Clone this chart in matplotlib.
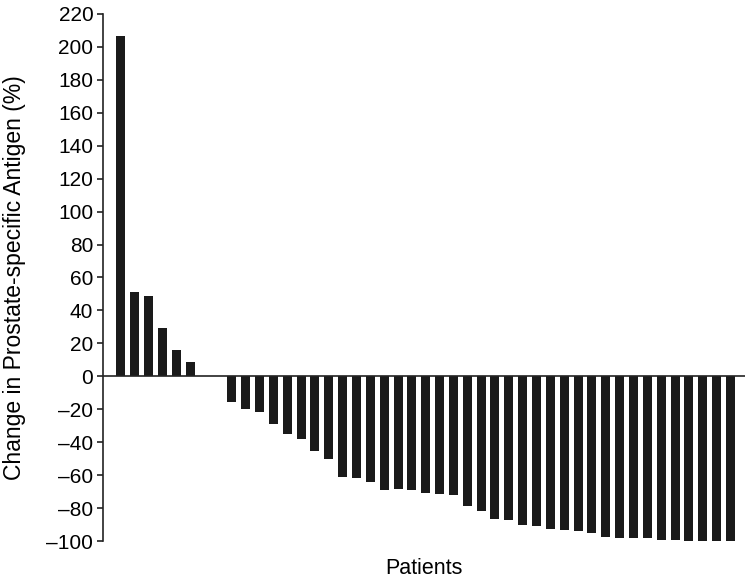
import matplotlib
matplotlib.use("Agg")
import matplotlib.pyplot as plt
import numpy as np

plt.rcParams['font.family'] = ['Liberation Sans', 'DejaVu Sans']

patients = list(range(1, 46))
psa_change = [206.5, 51, 49, 29.3, 15.9, 8.9, 0, 0,
              -15.3, -19.6, -21.5, -28.8, -34.8, -38.3, -45.3, -50.1,
              -61.2, -61.6, -64.2, -68.8, -68.7, -68.8, -71.0, -71.5,
              -72.1, -78.7, -81.5, -86.5, -87.5, -90.2, -90.8, -92.6,
              -93.2, -94.0, -95.0, -97.8, -98.4, -98.4, -98.0, -99.2,
              -99.2, -100, -100, -100, -100]
yticks = list(range(-100, 221, 20))

fig = plt.figure(figsize=(7.5, 5.82), dpi=100)
ax = fig.add_axes([0.1373, 0.0704, 0.856, 0.9056])

x = np.arange(len(psa_change))
ax.bar(x, psa_change, width=0.65, color='#1a1a1a', zorder=2)
ax.set_xlim(-1.3, 45.05)
ax.set_ylim(-100, 220)
ax.axhline(0, color='#222222', lw=1.2, zorder=3)

for s in ['top', 'right', 'bottom']:
    ax.spines[s].set_visible(False)
ax.spines['left'].set_bounds(-100, 220)
ax.spines['left'].set_color('#222222')
ax.spines['left'].set_linewidth(1.2)

ax.set_yticks(yticks)
ax.set_yticklabels([str(t).replace('-', '\u2013') for t in yticks])
ax.tick_params(axis='y', direction='out', length=4, width=1.2, labelsize=15,
               color='#222222', pad=3)
ax.set_xticks([])

ax.set_ylabel('Change in Prostate-specific Antigen (%)', fontsize=16.5)
ax.yaxis.set_label_coords(-0.12, 0.5)
ax.set_xlabel('Patients', fontsize=15.5, labelpad=12)

fig.savefig('out.png', dpi=100)
